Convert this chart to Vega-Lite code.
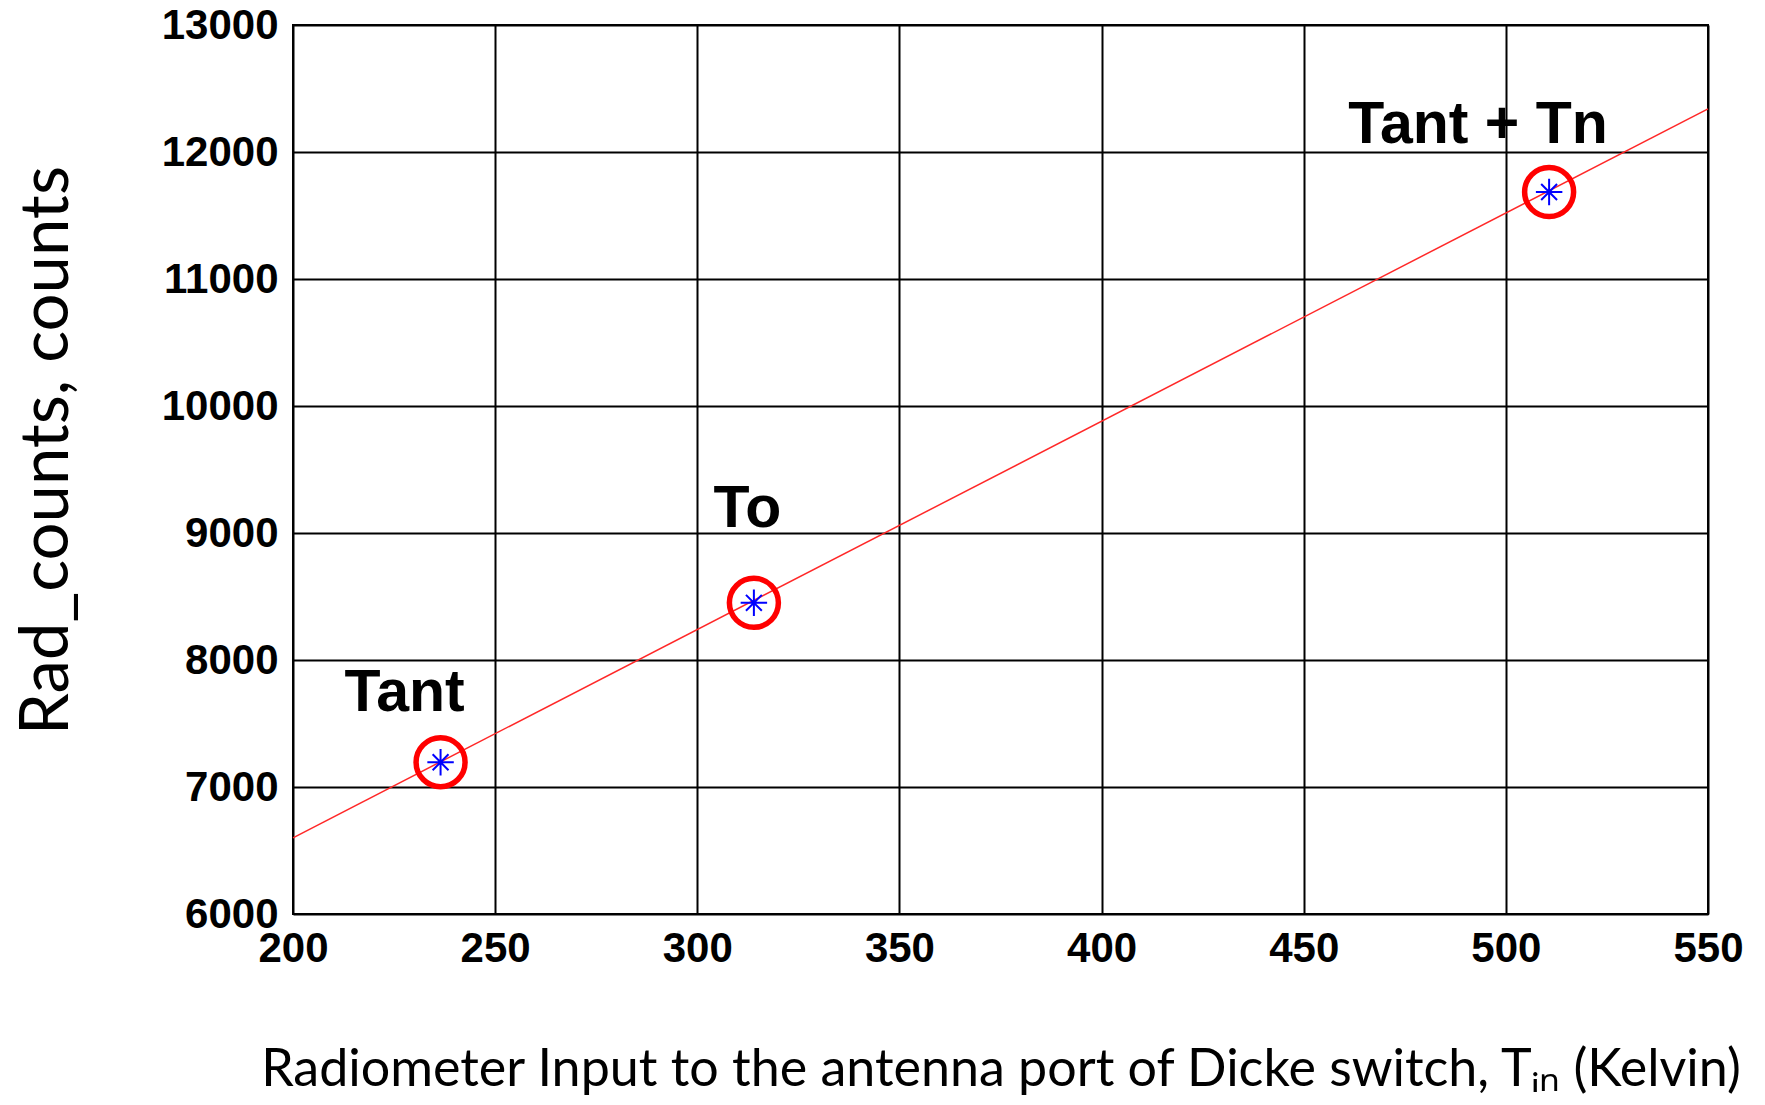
{
  "$schema": "https://vega.github.io/schema/vega-lite/v6.json",
  "autosize": "none",
  "width": 1415,
  "height": 889,
  "padding": {"left": 293, "top": 25, "right": 57, "bottom": 191},
  "background": "white",
  "config": {
    "view": {"stroke": "black", "strokeWidth": 2},
    "axis": {
      "grid": true,
      "gridColor": "black",
      "gridWidth": 2,
      "gridOpacity": 1,
      "domain": false,
      "ticks": false,
      "labelFont": "Liberation Sans",
      "labelFontWeight": "bold",
      "labelFontSize": 42,
      "labelColor": "black",
      "titleFont": "Lato",
      "titleFontWeight": "normal",
      "titleColor": "black"
    }
  },
  "datasets": {
    "fit": [
      {"T": 200, "counts": 6600},
      {"T": 550, "counts": 12340}
    ],
    "points": [
      {"T": 236.5, "counts": 7195},
      {"T": 314, "counts": 8450},
      {"T": 510.7, "counts": 11685}
    ],
    "labels": [
      {"T": 227.6, "counts": 7600, "label": "Tant"},
      {"T": 312.4, "counts": 9045, "label": "To"},
      {"T": 493.1, "counts": 12070, "label": "Tant + Tn"}
    ]
  },
  "layer": [
    {
      "data": {"name": "fit"},
      "mark": {"type": "line", "color": "#ff2828", "strokeWidth": 1.5},
      "encoding": {
        "x": {
          "field": "T", "type": "quantitative",
          "scale": {"domain": [200, 550], "nice": false, "zero": false},
          "axis": {
            "values": [200, 250, 300, 350, 400, 450, 500, 550],
            "format": "d",
            "labelPadding": 14,
            "labelFlush": false,
            "title": "Radiometer Input to the antenna port of  Dicke switch, Tᵢₙ (Kelvin)",
            "titleFontSize": 52,
            "titlePadding": 75
          }
        },
        "y": {
          "field": "counts", "type": "quantitative",
          "scale": {"domain": [6000, 13000], "nice": false, "zero": false},
          "axis": {
            "values": [6000, 7000, 8000, 9000, 10000, 11000, 12000, 13000],
            "format": "d",
            "labelPadding": 15,
            "labelFlush": false,
            "title": "Rad_counts, counts",
            "titleFontSize": 67,
            "titlePadding": 80,
            "titleY": 425
          }
        }
      }
    },
    {
      "data": {"name": "points"},
      "mark": {"type": "point", "shape": "circle", "filled": false, "color": "#ff0000", "strokeWidth": 5.5, "size": 2400, "opacity": 1},
      "encoding": {
        "x": {"field": "T", "type": "quantitative"},
        "y": {"field": "counts", "type": "quantitative"}
      }
    },
    {
      "data": {"name": "points"},
      "mark": {"type": "point", "shape": "M-1,0L1,0M0,-1L0,1M-0.6,-0.6L0.6,0.6M-0.6,0.6L0.6,-0.6", "filled": false, "color": "#0000ff", "strokeWidth": 2, "size": 700, "opacity": 1},
      "encoding": {
        "x": {"field": "T", "type": "quantitative"},
        "y": {"field": "counts", "type": "quantitative"}
      }
    },
    {
      "data": {"name": "labels"},
      "mark": {"type": "text", "font": "Liberation Sans", "fontWeight": "bold", "fontSize": 59, "color": "black", "align": "center", "baseline": "alphabetic"},
      "encoding": {
        "x": {"field": "T", "type": "quantitative"},
        "y": {"field": "counts", "type": "quantitative"},
        "text": {"field": "label", "type": "nominal"}
      }
    }
  ]
}
